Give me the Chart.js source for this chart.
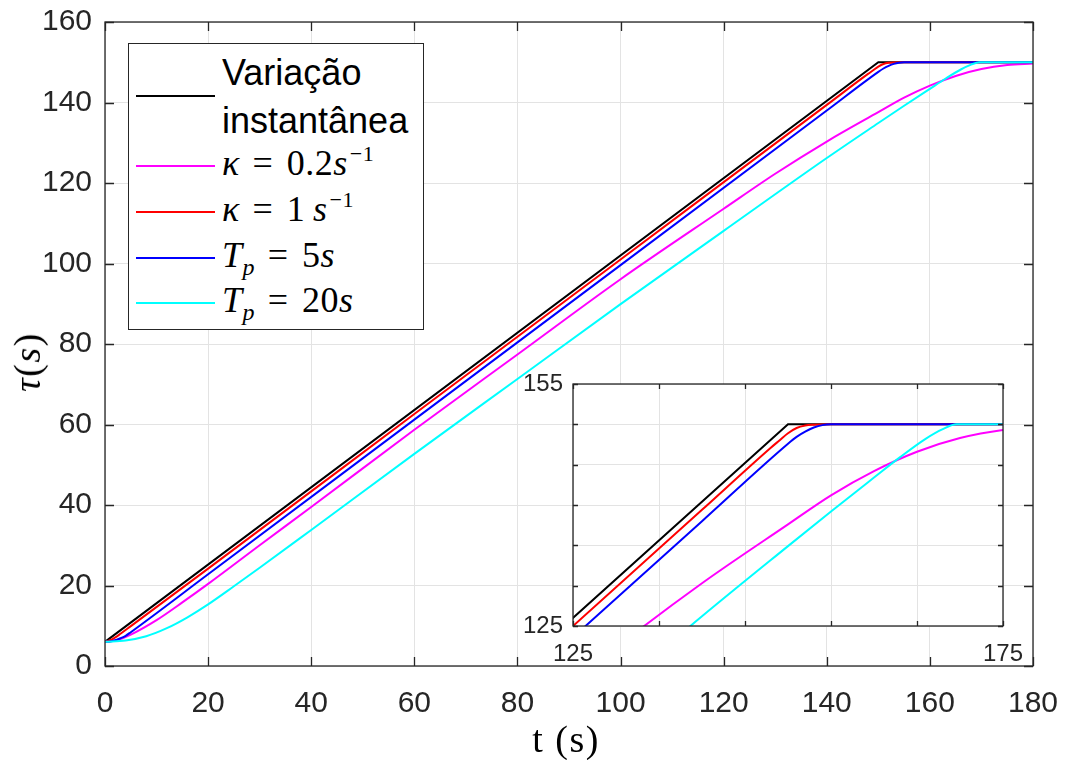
<!DOCTYPE html>
<html>
<head>
<meta charset="utf-8">
<script src="https://cdn.jsdelivr.net/npm/chart.js@4.4.1/dist/chart.umd.min.js"></script>
<style>
  body { margin: 0; background: #fff; }
  #wrap { position: relative; width: 1067px; height: 760px; overflow: hidden; }
  canvas { position: absolute; }
  .legendBox { position: absolute; left: 128px; top: 43px; width: 296px; height: 287px;
               background: #fff; border: 1.5px solid #262626; box-sizing: border-box; }
  .sample { position: absolute; left: 136px; width: 79px; height: 2px; }
  .sans { position: absolute; font: 36px 'Liberation Sans', Arial, sans-serif; line-height: 36px; color: #000; white-space: nowrap; }
  .math { position: absolute; font: 36px 'Liberation Serif', 'Times New Roman', serif; line-height: 36px; color: #000; white-space: nowrap; letter-spacing: 0.5px; }
  .math i { font-style: italic; }
  .eq { display: inline-block; width: 26px; text-align: center; margin: 0 11px 0 10px; }
  .sup { font-size: 22px; position: relative; top: -14px; margin-left: 2px; }
  .sub { font-size: 24px; position: relative; top: 8px; font-style: italic; }
  .title { position: absolute; font: 38px 'Liberation Serif', 'Times New Roman', serif; line-height: 38px; color: #000; white-space: nowrap; letter-spacing: 1.5px; }
</style>
</head>
<body>
<div id="wrap">
  <canvas id="mainChart" width="1067" height="760" style="left:0;top:0"></canvas>
  <canvas id="insetChart" width="530" height="300" style="left:520px;top:370px"></canvas>

  <div class="legendBox"></div>
  <div class="sample" style="top:95px;background:#000000"></div>
  <div class="sample" style="top:165px;background:#ff00ff"></div>
  <div class="sample" style="top:211px;background:#ff0000"></div>
  <div class="sample" style="top:257px;background:#0000ff"></div>
  <div class="sample" style="top:302px;background:#00ffff"></div>
  <div class="sans" style="left:222px;top:55px">Variação</div>
  <div class="sans" style="left:222px;top:103px">instantânea</div>
  <div class="math" style="left:222px;top:145px"><i>κ</i><span class="eq">=</span>0.2<i>s</i><span class="sup">−1</span></div>
  <div class="math" style="left:222px;top:191px"><i>κ</i><span class="eq">=</span>1&thinsp;<i>s</i><span class="sup">−1</span></div>
  <div class="math" style="left:222px;top:237px"><i>T</i><span class="sub">p</span><span class="eq">=</span>5<i>s</i></div>
  <div class="math" style="left:222px;top:282px"><i>T</i><span class="sub">p</span><span class="eq">=</span>20<i>s</i></div>

  <div class="title" style="left:27px;top:362px;transform:translate(-50%,-50%) rotate(-90deg)"><i>τ</i>(<i>s</i>)</div>
  <div class="title" style="left:566px;top:739px;transform:translate(-50%,-50%)">t (s)</div>
</div>

<script>
// Variação instantânea
const tBlack = [0, 150, 180];
const yBlack = [6, 150, 150];
// kappa = 0.2 s^-1
const tMag = [0, 2.5, 5, 10, 15, 20, 30, 40, 60, 80, 100, 120, 130, 140, 150, 155, 160, 165, 170, 175, 180];
const yMag = [6, 6.5, 7.8, 11.4, 15.8, 20.4, 30, 39.5, 58.7, 77.4, 96.1, 113.6, 122.3, 130.3, 137.6, 141.2, 144.2, 146.6, 148.3, 149.3, 149.7];
// kappa = 1 s^-1
const tRed = [0, 1, 2, 3, 5, 20, 60, 100, 140, 148, 149, 150, 151, 152, 153, 155, 180];
const yRed = [6, 6.4, 7.1, 8, 9.9, 24.2, 62.6, 101, 139.4, 147.1, 148, 148.9, 149.55, 149.85, 149.95, 150, 150];
// T_p = 5 s
const tBlue = [0, 1, 2, 3, 4, 5, 20, 60, 100, 140, 150, 151, 152, 153, 154, 155, 180];
const yBlue = [6, 6.1, 6.4, 6.9, 7.5, 8.4, 22.8, 61.2, 99.6, 138, 147.6, 148.45, 149.1, 149.6, 149.9, 150, 150];
// T_p = 20 s
const tCyan = [0, 4, 8, 12, 16, 20, 25, 30, 40, 60, 80, 100, 120, 140, 150, 155, 160, 163, 166, 168, 169.6, 180];
const yCyan = [6, 6.35, 7.4, 9.4, 12.1, 15.3, 19.8, 24.4, 33.8, 52.7, 71.3, 89.9, 108.1, 126.2, 134.9, 139.2, 143.4, 145.9, 148.2, 149.4, 150, 150];

const seriesLabels = ['Variação instantânea', 'κ = 0.2s⁻¹', 'κ = 1 s⁻¹', 'Tp = 5s', 'Tp = 20s'];
const seriesColors = ['#000000', '#ff00ff', '#ff0000', '#0000ff', '#00ffff'];

// tick values
const xTicks = [0, 20, 40, 60, 80, 100, 120, 140, 160, 180];
const yTicks = [0, 20, 40, 60, 80, 100, 120, 140, 160];
const insetXTicks = [125, 135, 145, 155, 165, 175];
const insetYTicks = [125, 130, 135, 140, 145, 150, 155];
const insetXLabels = [125, 175];
const insetYLabels = [125, 155];

function pts(ts, ys) {
    return ts.map((t, i) => ({ x: t, y: ys[i] }));
}

function makeDatasets() {
    const series = [[tBlack, yBlack], [tMag, yMag], [tRed, yRed], [tBlue, yBlue], [tCyan, yCyan]];
    return series.map((s, i) => ({
        label: seriesLabels[i],
        data: pts(s[0], s[1]),
        borderColor: seriesColors[i],
        borderWidth: 2,
        pointRadius: 0,
        fill: false,
        cubicInterpolationMode: i === 0 ? 'default' : 'monotone',
        tension: 0,
        order: 5 - i   // later series drawn on top, as in the original
    }));
}

// white axes background, full box and inward ticks
const matlabAxes = {
    id: 'matlabAxes',
    beforeDraw(chart) {
        const a = chart.chartArea, ctx = chart.ctx;
        ctx.save();
        ctx.fillStyle = '#ffffff';
        ctx.fillRect(a.left, a.top, a.right - a.left, a.bottom - a.top);
        ctx.restore();
    },
    afterDraw(chart, args, opts) {
        const { ctx, chartArea: a, scales: { x, y } } = chart;
        const len = opts.tick;
        ctx.save();
        ctx.strokeStyle = '#262626';
        ctx.lineWidth = opts.lw;
        ctx.beginPath();
        x.ticks.forEach(t => {
            const px = Math.round(x.getPixelForValue(t.value)) + 0.5;
            ctx.moveTo(px, a.bottom); ctx.lineTo(px, a.bottom - len);
            ctx.moveTo(px, a.top); ctx.lineTo(px, a.top + len);
        });
        y.ticks.forEach(t => {
            const py = Math.round(y.getPixelForValue(t.value)) + 0.5;
            ctx.moveTo(a.left, py); ctx.lineTo(a.left + len, py);
            ctx.moveTo(a.right, py); ctx.lineTo(a.right - len, py);
        });
        ctx.stroke();
        ctx.strokeRect(a.left, a.top, a.right - a.left, a.bottom - a.top);
        ctx.restore();
    }
};

Chart.defaults.devicePixelRatio = 1;
const tickFont = "'Liberation Sans', Arial, sans-serif";

// label gap done with invisible tick marks, so it does not add to the label overhang
function gridOpts(gap) {
    return { color: '#e3e3e3', lineWidth: 1, drawTicks: true, tickLength: gap, tickColor: 'rgba(0,0,0,0)' };
}

// Main chart
const mainCtx = document.getElementById('mainChart').getContext('2d');
const mainChart = new Chart(mainCtx, {
    type: 'line',
    data: { datasets: makeDatasets() },
    plugins: [matlabAxes],
    options: {
        responsive: false,
        animation: false,
        events: [],
        layout: { padding: { top: 22, right: 34, left: 0, bottom: 0 } },
        plugins: {
            legend: { display: false },
            tooltip: { enabled: false },
            matlabAxes: { tick: 9, lw: 1.3 }
        },
        scales: {
            x: {
                type: 'linear',
                min: 0,
                max: 180,
                afterBuildTicks: s => { s.ticks = xTicks.map(v => ({ value: v })); },
                afterFit: s => { s.height = 94; },
                ticks: {
                    autoSkip: false,
                    maxRotation: 0,
                    padding: 0,
                    color: '#262626',
                    font: { family: tickFont, size: 30, lineHeight: 1 }
                },
                grid: gridOpts(23),
                border: { display: false }
            },
            y: {
                type: 'linear',
                min: 0,
                max: 160,
                afterBuildTicks: s => { s.ticks = yTicks.map(v => ({ value: v })); },
                afterFit: s => { s.width = 105; },
                ticks: {
                    autoSkip: false,
                    padding: 0,
                    color: '#262626',
                    font: { family: tickFont, size: 30, lineHeight: 1 }
                },
                grid: gridOpts(13),
                border: { display: false }
            }
        }
    }
});

// Inset zoom chart
const insetCtx = document.getElementById('insetChart').getContext('2d');
const insetChart = new Chart(insetCtx, {
    type: 'line',
    data: { datasets: makeDatasets() },
    plugins: [matlabAxes],
    options: {
        responsive: false,
        animation: false,
        events: [],
        layout: { padding: { top: 14, right: 47, left: 0, bottom: 0 } },
        plugins: {
            legend: { display: false },
            tooltip: { enabled: false },
            matlabAxes: { tick: 5, lw: 1.3 }
        },
        scales: {
            x: {
                type: 'linear',
                min: 125,
                max: 175,
                afterBuildTicks: s => { s.ticks = insetXTicks.map(v => ({ value: v })); },
                afterFit: s => { s.height = 44; },
                ticks: {
                    autoSkip: false,
                    maxRotation: 0,
                    padding: 0,
                    color: '#262626',
                    font: { family: tickFont, size: 24, lineHeight: 1 },
                    callback: v => insetXLabels.includes(v) ? String(v) : ''
                },
                grid: gridOpts(16),
                border: { display: false }
            },
            y: {
                type: 'linear',
                min: 125,
                max: 155,
                afterBuildTicks: s => { s.ticks = insetYTicks.map(v => ({ value: v })); },
                afterFit: s => { s.width = 53; },
                ticks: {
                    autoSkip: false,
                    padding: 0,
                    color: '#262626',
                    font: { family: tickFont, size: 24, lineHeight: 1 },
                    callback: v => insetYLabels.includes(v) ? String(v) : ''
                },
                grid: gridOpts(10),
                border: { display: false }
            }
        }
    }
});
</script>
</body>
</html>
